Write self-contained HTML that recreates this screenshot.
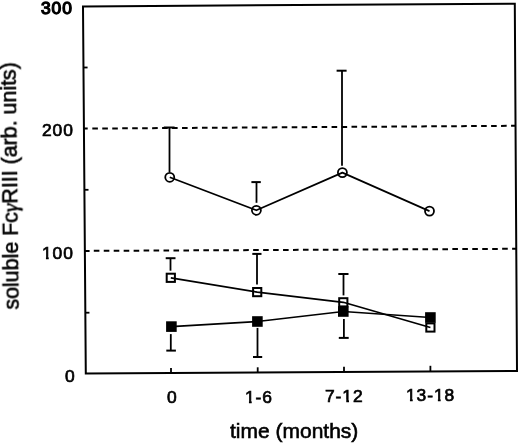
<!DOCTYPE html>
<html><head><meta charset="utf-8"><style>
html,body{margin:0;padding:0;background:#fff;width:520px;height:444px;overflow:hidden}
.t{position:absolute;will-change:transform;font-family:"Liberation Sans",sans-serif;color:#000;white-space:nowrap;line-height:1}
.n{font-size:17.4px;letter-spacing:0.93px;-webkit-text-stroke:0.7px #000}
#l300{-webkit-text-stroke:1.3px #000}
.ti{font-size:21px;-webkit-text-stroke:0.6px #000}
#yt{font-size:21.4px}
.gam{font-family:"Liberation Serif",serif;font-style:italic;-webkit-text-stroke:0.6px #000}
svg{position:absolute;left:0;top:0}
.one{display:inline-block;clip-path:polygon(-5px -5px,20px -5px,20px 11.4px,6.7px 11.4px,6.7px 25px,3.95px 25px,3.95px 11.4px,-5px 11.4px)}
</style></head><body>
<svg width="520" height="444" viewBox="0 0 520 444" stroke="#000" fill="none">
<path d="M83.0,6.4 L514.8,3.7 L517.0,371.0 L85.8,373.4 Z" fill="none" stroke-width="2.0" stroke-linejoin="miter"/>
<line x1="83.47" y1="67.50" x2="87.57" y2="67.50" stroke-width="1.8" stroke-linecap="butt"/>
<line x1="84.40" y1="189.80" x2="88.50" y2="189.80" stroke-width="1.8" stroke-linecap="butt"/>
<line x1="85.34" y1="312.70" x2="89.44" y2="312.70" stroke-width="1.8" stroke-linecap="butt"/>
<line x1="83.93" y1="128.60" x2="87.70" y2="128.58" stroke-width="2.0" stroke-linecap="butt"/>
<line x1="92.30" y1="128.55" x2="97.90" y2="128.51" stroke-width="2.0" stroke-linecap="butt"/>
<line x1="102.27" y1="128.48" x2="107.87" y2="128.44" stroke-width="2.0" stroke-linecap="butt"/>
<line x1="112.24" y1="128.42" x2="117.84" y2="128.38" stroke-width="2.0" stroke-linecap="butt"/>
<line x1="122.21" y1="128.35" x2="127.81" y2="128.32" stroke-width="2.0" stroke-linecap="butt"/>
<line x1="132.18" y1="128.29" x2="137.78" y2="128.25" stroke-width="2.0" stroke-linecap="butt"/>
<line x1="142.15" y1="128.22" x2="147.75" y2="128.19" stroke-width="2.0" stroke-linecap="butt"/>
<line x1="152.12" y1="128.16" x2="157.72" y2="128.12" stroke-width="2.0" stroke-linecap="butt"/>
<line x1="162.09" y1="128.09" x2="167.69" y2="128.06" stroke-width="2.0" stroke-linecap="butt"/>
<line x1="172.06" y1="128.03" x2="177.66" y2="127.99" stroke-width="2.0" stroke-linecap="butt"/>
<line x1="182.03" y1="127.96" x2="187.63" y2="127.93" stroke-width="2.0" stroke-linecap="butt"/>
<line x1="192.00" y1="127.90" x2="197.60" y2="127.86" stroke-width="2.0" stroke-linecap="butt"/>
<line x1="201.97" y1="127.83" x2="207.57" y2="127.80" stroke-width="2.0" stroke-linecap="butt"/>
<line x1="211.94" y1="127.77" x2="217.54" y2="127.73" stroke-width="2.0" stroke-linecap="butt"/>
<line x1="221.91" y1="127.70" x2="227.51" y2="127.67" stroke-width="2.0" stroke-linecap="butt"/>
<line x1="231.88" y1="127.64" x2="237.48" y2="127.60" stroke-width="2.0" stroke-linecap="butt"/>
<line x1="241.85" y1="127.58" x2="247.45" y2="127.54" stroke-width="2.0" stroke-linecap="butt"/>
<line x1="251.82" y1="127.51" x2="257.42" y2="127.47" stroke-width="2.0" stroke-linecap="butt"/>
<line x1="261.79" y1="127.45" x2="267.39" y2="127.41" stroke-width="2.0" stroke-linecap="butt"/>
<line x1="271.76" y1="127.38" x2="277.36" y2="127.35" stroke-width="2.0" stroke-linecap="butt"/>
<line x1="281.73" y1="127.32" x2="287.33" y2="127.28" stroke-width="2.0" stroke-linecap="butt"/>
<line x1="291.70" y1="127.25" x2="297.30" y2="127.22" stroke-width="2.0" stroke-linecap="butt"/>
<line x1="301.67" y1="127.19" x2="307.27" y2="127.15" stroke-width="2.0" stroke-linecap="butt"/>
<line x1="311.64" y1="127.12" x2="317.24" y2="127.09" stroke-width="2.0" stroke-linecap="butt"/>
<line x1="321.61" y1="127.06" x2="327.21" y2="127.02" stroke-width="2.0" stroke-linecap="butt"/>
<line x1="331.58" y1="126.99" x2="337.18" y2="126.96" stroke-width="2.0" stroke-linecap="butt"/>
<line x1="341.55" y1="126.93" x2="347.15" y2="126.89" stroke-width="2.0" stroke-linecap="butt"/>
<line x1="351.52" y1="126.86" x2="357.12" y2="126.83" stroke-width="2.0" stroke-linecap="butt"/>
<line x1="361.49" y1="126.80" x2="367.09" y2="126.76" stroke-width="2.0" stroke-linecap="butt"/>
<line x1="371.46" y1="126.73" x2="377.06" y2="126.70" stroke-width="2.0" stroke-linecap="butt"/>
<line x1="381.43" y1="126.67" x2="387.03" y2="126.63" stroke-width="2.0" stroke-linecap="butt"/>
<line x1="391.40" y1="126.61" x2="397.00" y2="126.57" stroke-width="2.0" stroke-linecap="butt"/>
<line x1="401.37" y1="126.54" x2="406.97" y2="126.50" stroke-width="2.0" stroke-linecap="butt"/>
<line x1="411.34" y1="126.48" x2="416.94" y2="126.44" stroke-width="2.0" stroke-linecap="butt"/>
<line x1="421.31" y1="126.41" x2="426.91" y2="126.37" stroke-width="2.0" stroke-linecap="butt"/>
<line x1="431.28" y1="126.35" x2="436.88" y2="126.31" stroke-width="2.0" stroke-linecap="butt"/>
<line x1="441.25" y1="126.28" x2="446.85" y2="126.25" stroke-width="2.0" stroke-linecap="butt"/>
<line x1="451.22" y1="126.22" x2="456.82" y2="126.18" stroke-width="2.0" stroke-linecap="butt"/>
<line x1="461.19" y1="126.15" x2="466.79" y2="126.12" stroke-width="2.0" stroke-linecap="butt"/>
<line x1="471.16" y1="126.09" x2="476.76" y2="126.05" stroke-width="2.0" stroke-linecap="butt"/>
<line x1="481.13" y1="126.02" x2="486.73" y2="125.99" stroke-width="2.0" stroke-linecap="butt"/>
<line x1="491.10" y1="125.96" x2="496.70" y2="125.92" stroke-width="2.0" stroke-linecap="butt"/>
<line x1="501.07" y1="125.89" x2="506.67" y2="125.86" stroke-width="2.0" stroke-linecap="butt"/>
<line x1="511.04" y1="125.83" x2="515.53" y2="125.80" stroke-width="2.0" stroke-linecap="butt"/>
<line x1="84.87" y1="250.90" x2="89.60" y2="250.88" stroke-width="2.0" stroke-linecap="butt"/>
<line x1="93.80" y1="250.86" x2="99.40" y2="250.83" stroke-width="2.0" stroke-linecap="butt"/>
<line x1="103.76" y1="250.81" x2="109.36" y2="250.78" stroke-width="2.0" stroke-linecap="butt"/>
<line x1="113.72" y1="250.76" x2="119.32" y2="250.73" stroke-width="2.0" stroke-linecap="butt"/>
<line x1="123.68" y1="250.71" x2="129.28" y2="250.68" stroke-width="2.0" stroke-linecap="butt"/>
<line x1="133.64" y1="250.66" x2="139.24" y2="250.64" stroke-width="2.0" stroke-linecap="butt"/>
<line x1="143.60" y1="250.61" x2="149.20" y2="250.59" stroke-width="2.0" stroke-linecap="butt"/>
<line x1="153.56" y1="250.57" x2="159.16" y2="250.54" stroke-width="2.0" stroke-linecap="butt"/>
<line x1="163.52" y1="250.52" x2="169.12" y2="250.49" stroke-width="2.0" stroke-linecap="butt"/>
<line x1="173.48" y1="250.47" x2="179.08" y2="250.44" stroke-width="2.0" stroke-linecap="butt"/>
<line x1="183.44" y1="250.42" x2="189.04" y2="250.39" stroke-width="2.0" stroke-linecap="butt"/>
<line x1="193.40" y1="250.37" x2="199.00" y2="250.34" stroke-width="2.0" stroke-linecap="butt"/>
<line x1="203.36" y1="250.32" x2="208.96" y2="250.30" stroke-width="2.0" stroke-linecap="butt"/>
<line x1="213.32" y1="250.27" x2="218.92" y2="250.25" stroke-width="2.0" stroke-linecap="butt"/>
<line x1="223.28" y1="250.23" x2="228.88" y2="250.20" stroke-width="2.0" stroke-linecap="butt"/>
<line x1="233.24" y1="250.18" x2="238.84" y2="250.15" stroke-width="2.0" stroke-linecap="butt"/>
<line x1="243.20" y1="250.13" x2="248.80" y2="250.10" stroke-width="2.0" stroke-linecap="butt"/>
<line x1="253.16" y1="250.08" x2="258.76" y2="250.05" stroke-width="2.0" stroke-linecap="butt"/>
<line x1="263.12" y1="250.03" x2="268.72" y2="250.01" stroke-width="2.0" stroke-linecap="butt"/>
<line x1="273.08" y1="249.98" x2="278.68" y2="249.96" stroke-width="2.0" stroke-linecap="butt"/>
<line x1="283.04" y1="249.94" x2="288.64" y2="249.91" stroke-width="2.0" stroke-linecap="butt"/>
<line x1="293.00" y1="249.89" x2="298.60" y2="249.86" stroke-width="2.0" stroke-linecap="butt"/>
<line x1="302.96" y1="249.84" x2="308.56" y2="249.81" stroke-width="2.0" stroke-linecap="butt"/>
<line x1="312.92" y1="249.79" x2="318.52" y2="249.76" stroke-width="2.0" stroke-linecap="butt"/>
<line x1="322.88" y1="249.74" x2="328.48" y2="249.71" stroke-width="2.0" stroke-linecap="butt"/>
<line x1="332.84" y1="249.69" x2="338.44" y2="249.67" stroke-width="2.0" stroke-linecap="butt"/>
<line x1="342.80" y1="249.64" x2="348.40" y2="249.62" stroke-width="2.0" stroke-linecap="butt"/>
<line x1="352.76" y1="249.60" x2="358.36" y2="249.57" stroke-width="2.0" stroke-linecap="butt"/>
<line x1="362.72" y1="249.55" x2="368.32" y2="249.52" stroke-width="2.0" stroke-linecap="butt"/>
<line x1="372.68" y1="249.50" x2="378.28" y2="249.47" stroke-width="2.0" stroke-linecap="butt"/>
<line x1="382.64" y1="249.45" x2="388.24" y2="249.42" stroke-width="2.0" stroke-linecap="butt"/>
<line x1="392.60" y1="249.40" x2="398.20" y2="249.37" stroke-width="2.0" stroke-linecap="butt"/>
<line x1="402.56" y1="249.35" x2="408.16" y2="249.33" stroke-width="2.0" stroke-linecap="butt"/>
<line x1="412.52" y1="249.31" x2="418.12" y2="249.28" stroke-width="2.0" stroke-linecap="butt"/>
<line x1="422.48" y1="249.26" x2="428.08" y2="249.23" stroke-width="2.0" stroke-linecap="butt"/>
<line x1="432.44" y1="249.21" x2="438.04" y2="249.18" stroke-width="2.0" stroke-linecap="butt"/>
<line x1="442.40" y1="249.16" x2="448.00" y2="249.13" stroke-width="2.0" stroke-linecap="butt"/>
<line x1="452.36" y1="249.11" x2="457.96" y2="249.08" stroke-width="2.0" stroke-linecap="butt"/>
<line x1="462.32" y1="249.06" x2="467.92" y2="249.04" stroke-width="2.0" stroke-linecap="butt"/>
<line x1="472.28" y1="249.01" x2="477.88" y2="248.99" stroke-width="2.0" stroke-linecap="butt"/>
<line x1="482.24" y1="248.97" x2="487.84" y2="248.94" stroke-width="2.0" stroke-linecap="butt"/>
<line x1="492.20" y1="248.92" x2="497.80" y2="248.89" stroke-width="2.0" stroke-linecap="butt"/>
<line x1="502.16" y1="248.87" x2="507.76" y2="248.84" stroke-width="2.0" stroke-linecap="butt"/>
<line x1="512.12" y1="248.82" x2="516.27" y2="248.80" stroke-width="2.0" stroke-linecap="butt"/>
<line x1="171.00" y1="372.93" x2="171.00" y2="368.00" stroke-width="1.8" stroke-linecap="butt"/>
<line x1="257.70" y1="372.44" x2="257.70" y2="367.30" stroke-width="1.8" stroke-linecap="butt"/>
<line x1="344.00" y1="371.96" x2="344.00" y2="366.70" stroke-width="1.8" stroke-linecap="butt"/>
<line x1="430.40" y1="371.48" x2="430.40" y2="365.80" stroke-width="1.8" stroke-linecap="butt"/>
<path d="M169.75,177.3 L256.4,210.3 L342.4,172.6 L429.5,211.1" fill="none" stroke-width="1.7" stroke-linejoin="round"/>
<path d="M170.8,277.8 L257.2,292.1 L343.3,302.3 L430.4,327.5" fill="none" stroke-width="1.7" stroke-linejoin="round"/>
<path d="M171.4,326.6 L257.4,321.5 L343.3,311.5 L430.4,317.5" fill="none" stroke-width="1.7" stroke-linejoin="round"/>
<line x1="169.50" y1="172.00" x2="169.50" y2="127.50" stroke-width="1.8" stroke-linecap="butt"/>
<line x1="163.80" y1="127.50" x2="174.60" y2="127.50" stroke-width="2.0" stroke-linecap="butt"/>
<line x1="256.50" y1="202.80" x2="256.50" y2="182.10" stroke-width="1.8" stroke-linecap="butt"/>
<line x1="251.40" y1="182.10" x2="260.80" y2="182.10" stroke-width="2.0" stroke-linecap="butt"/>
<line x1="342.00" y1="165.80" x2="342.00" y2="70.70" stroke-width="1.8" stroke-linecap="butt"/>
<line x1="336.60" y1="70.70" x2="346.60" y2="70.70" stroke-width="2.0" stroke-linecap="butt"/>
<line x1="170.50" y1="270.70" x2="170.50" y2="258.20" stroke-width="1.8" stroke-linecap="butt"/>
<line x1="165.70" y1="258.20" x2="175.50" y2="258.20" stroke-width="2.0" stroke-linecap="butt"/>
<line x1="257.00" y1="284.60" x2="257.00" y2="253.90" stroke-width="1.8" stroke-linecap="butt"/>
<line x1="252.30" y1="253.90" x2="261.50" y2="253.90" stroke-width="2.0" stroke-linecap="butt"/>
<line x1="343.50" y1="295.40" x2="343.50" y2="274.00" stroke-width="1.8" stroke-linecap="butt"/>
<line x1="338.30" y1="274.00" x2="348.50" y2="274.00" stroke-width="2.0" stroke-linecap="butt"/>
<line x1="343.90" y1="319.00" x2="343.90" y2="337.90" stroke-width="1.8" stroke-linecap="butt"/>
<line x1="338.80" y1="337.90" x2="348.70" y2="337.90" stroke-width="2.0" stroke-linecap="butt"/>
<line x1="170.80" y1="334.10" x2="170.80" y2="350.60" stroke-width="1.8" stroke-linecap="butt"/>
<line x1="166.30" y1="350.60" x2="175.90" y2="350.60" stroke-width="2.0" stroke-linecap="butt"/>
<line x1="257.50" y1="327.90" x2="257.50" y2="357.00" stroke-width="1.8" stroke-linecap="butt"/>
<line x1="253.00" y1="357.00" x2="262.20" y2="357.00" stroke-width="2.0" stroke-linecap="butt"/>
<circle cx="169.75" cy="177.3" r="4.5" fill="none" stroke-width="1.8"/>
<circle cx="256.4" cy="210.3" r="4.5" fill="none" stroke-width="1.8"/>
<circle cx="342.4" cy="172.6" r="4.5" fill="none" stroke-width="1.8"/>
<circle cx="429.5" cy="211.1" r="4.5" fill="none" stroke-width="1.8"/>
<rect x="166.70" y="273.70" width="8.2" height="8.2" fill="none" stroke-width="2.0"/>
<rect x="253.10" y="288.00" width="8.2" height="8.2" fill="none" stroke-width="2.0"/>
<rect x="339.20" y="298.20" width="8.2" height="8.2" fill="none" stroke-width="2.0"/>
<rect x="426.30" y="323.40" width="8.2" height="8.2" fill="none" stroke-width="2.0"/>
<rect x="166.10" y="321.30" width="10.6" height="10.6" fill="#000" stroke="none"/>
<rect x="252.10" y="316.20" width="10.6" height="10.6" fill="#000" stroke="none"/>
<rect x="338.00" y="306.20" width="10.6" height="10.6" fill="#000" stroke="none"/>
<rect x="425.10" y="312.20" width="10.6" height="10.6" fill="#000" stroke="none"/>
</svg>
<div class="t n" id="l300" style="left:40.7px;top:0px">300</div>
<div class="t n" id="l200" style="left:41.7px;top:122px">200</div>
<div class="t n" id="l100" style="left:42.3px;top:244.6px"><span class="one">1</span>00</div>
<div class="t n" id="l0" style="left:64.7px;top:367.6px">0</div>
<div class="t n" id="x0" style="left:166.8px;top:388.5px">0</div>
<div class="t n" id="x1" style="left:245px;top:388.6px"><span class="one">1</span>-6</div>
<div class="t n" id="x2" style="left:325.4px;top:388.4px">7-<span class="one">1</span>2</div>
<div class="t n" id="x3" style="left:406.2px;top:387px"><span class="one">1</span>3-<span class="one">1</span>8</div>
<div class="t ti" id="xt" style="left:229.7px;top:420px">time (months)</div>
<div class="t ti" id="yt" style="left:0;top:0;transform-origin:0 0;transform:translate(1.8px,309.7px) rotate(-90.74deg)">soluble Fc<span class="gam">&#947;</span>RIII (arb. units)</div>
</body></html>
